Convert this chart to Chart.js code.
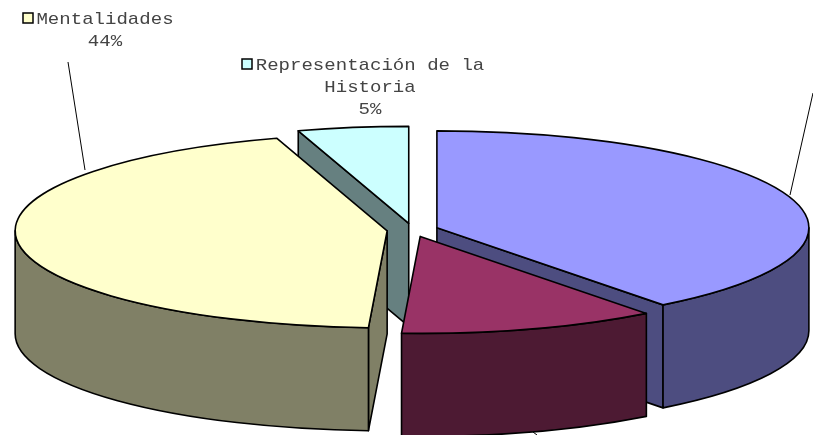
<!DOCTYPE html>
<html>
<head>
<meta charset="utf-8">
<title>Pie 3D</title>
<script src="https://cdn.jsdelivr.net/npm/chart.js@4/dist/chart.umd.js"></script>
<style>
    html, body { margin: 0; padding: 0; background: #fff; overflow: hidden; }
    canvas { display: block; }
</style>
</head>
<body>
<canvas id="chart" width="813" height="435"></canvas>
<script>
// Values. The two first labels are cut off in the source.
const categories = ["", "", "Mentalidades", ["Representación de la", "Historia"]];
const sliceValues = [39.6, 11.2, 44.4, 4.8];
const topColors = ["#9999ff", "#993366", "#ffffcc", "#ccffff"];
const wallColors = ["#4d4d80", "#4d1a33", "#808066", "#668080"];

// Projection of the flat pie onto the 3D ellipse
const ELLIPSE = { cx: 412.6, cy: 230, rx: 372, ry: 97, depth: 103 };
const EXPLODE = 14.5;
const LINE_WIDTH = 1.6;

// Where the labels sit: index into categories, legend key, centre of the text, first baseline
const LABEL_SPOTS = [
    { index: 2, keyX: 23, keyY: 13, centerX: 105, baseY: 24 },
    { index: 3, keyX: 242, keyY: 59, centerX: 370, baseY: 70 },
];
const LEADERS = [
    [68, 62, 85, 170],
    [813, 93, 790, 195],
    [533, 432, 537, 435],
];

function rim(center, angle) {
    return {
        x: center.x + Math.cos(angle) * ELLIPSE.rx,
        y: center.y + Math.sin(angle) * ELLIPSE.ry,
    };
}

function paint(ctx, fill) {
    ctx.fillStyle = fill;
    ctx.fill();
    ctx.strokeStyle = "#000";
    ctx.lineWidth = LINE_WIDTH;
    ctx.lineJoin = "round";
    ctx.stroke();
}

function drawSideFace(ctx, center, angle, fill) {
    const a = rim(center, angle);
    ctx.beginPath();
    ctx.moveTo(center.x, center.y);
    ctx.lineTo(a.x, a.y);
    ctx.lineTo(a.x, a.y + ELLIPSE.depth);
    ctx.lineTo(center.x, center.y + ELLIPSE.depth);
    ctx.closePath();
    paint(ctx, fill);
}

function drawOuterWall(ctx, center, from, to, fill) {
    const { rx, ry, depth } = ELLIPSE;
    ctx.beginPath();
    ctx.ellipse(center.x, center.y, rx, ry, 0, from, to);
    ctx.ellipse(center.x, center.y + depth, rx, ry, 0, to, from, true);
    ctx.closePath();
    paint(ctx, fill);
}

function drawTop(ctx, center, start, end, fill) {
    ctx.beginPath();
    ctx.moveTo(center.x, center.y);
    ctx.ellipse(center.x, center.y, ELLIPSE.rx, ELLIPSE.ry, 0, start, end);
    ctx.closePath();
    paint(ctx, fill);
}

function drawLabels(ctx, labels, values) {
    ctx.save();
    ctx.font = "17px 'Liberation Mono'";
    ctx.textBaseline = "alphabetic";
    ctx.textAlign = "center";
    for (const spot of LABEL_SPOTS) {
        ctx.fillStyle = topColors[spot.index];
        ctx.strokeStyle = "#000";
        ctx.lineWidth = 1.5;
        ctx.fillRect(spot.keyX, spot.keyY, 10, 10);
        ctx.strokeRect(spot.keyX, spot.keyY, 10, 10);

        const label = labels[spot.index];
        const percent = Math.round(values[spot.index]) + "%";
        const lines = (Array.isArray(label) ? label : [label]).concat(percent);
        ctx.fillStyle = "#444";
        lines.forEach((line, i) => {
            ctx.save();
            // The source text is stretched sideways
            ctx.translate(spot.centerX, spot.baseY + i * 22);
            ctx.scale(1.12, 1);
            ctx.fillText(line, 0, 0);
            ctx.restore();
        });
    }
    ctx.strokeStyle = "#000";
    ctx.lineWidth = 1;
    for (const [x1, y1, x2, y2] of LEADERS) {
        ctx.beginPath();
        ctx.moveTo(x1, y1);
        ctx.lineTo(x2, y2);
        ctx.stroke();
    }
    ctx.restore();
}

// Takes the arcs Chart.js laid out and paints them as an exploded 3D pie
const pie3d = {
    id: "pie3d",
    beforeDatasetsDraw(chart) {
        const ctx = chart.ctx;
        const arcs = chart.getDatasetMeta(0).data;
        const slices = arcs.map((arc, i) => {
            const mid = (arc.startAngle + arc.endAngle) / 2;
            const shift = arc.options.offset / arc.outerRadius;
            return {
                i,
                mid,
                start: arc.startAngle,
                end: arc.endAngle,
                center: {
                    x: ELLIPSE.cx + Math.cos(mid) * shift * ELLIPSE.rx,
                    y: ELLIPSE.cy + Math.sin(mid) * shift * ELLIPSE.ry,
                },
            };
        });

        // Back to front
        slices.sort((a, b) => Math.sin(a.mid) - Math.sin(b.mid));

        ctx.save();
        for (const s of slices) {
            // A cut face only shows when it turns towards the viewer
            if (-Math.cos(s.start) > 1e-6) drawSideFace(ctx, s.center, s.start, wallColors[s.i]);
            if (Math.cos(s.end) > 1e-6) drawSideFace(ctx, s.center, s.end, wallColors[s.i]);
            const from = Math.max(s.start, 0);
            const to = Math.min(s.end, Math.PI);
            if (to > from) drawOuterWall(ctx, s.center, from, to, wallColors[s.i]);
            drawTop(ctx, s.center, s.start, s.end, topColors[s.i]);
        }
        ctx.restore();

        drawLabels(ctx, chart.data.labels, chart.data.datasets[0].data);
        return false;
    },
};

new Chart(document.getElementById("chart"), {
    type: "pie",
    data: {
        labels: categories,
        datasets: [{ data: sliceValues, backgroundColor: topColors, offset: EXPLODE, borderWidth: 0 }],
    },
    options: {
        responsive: false,
        animation: false,
        events: [],
        plugins: { legend: { display: false }, tooltip: { enabled: false } },
    },
    plugins: [pie3d],
});
</script>
</body>
</html>
